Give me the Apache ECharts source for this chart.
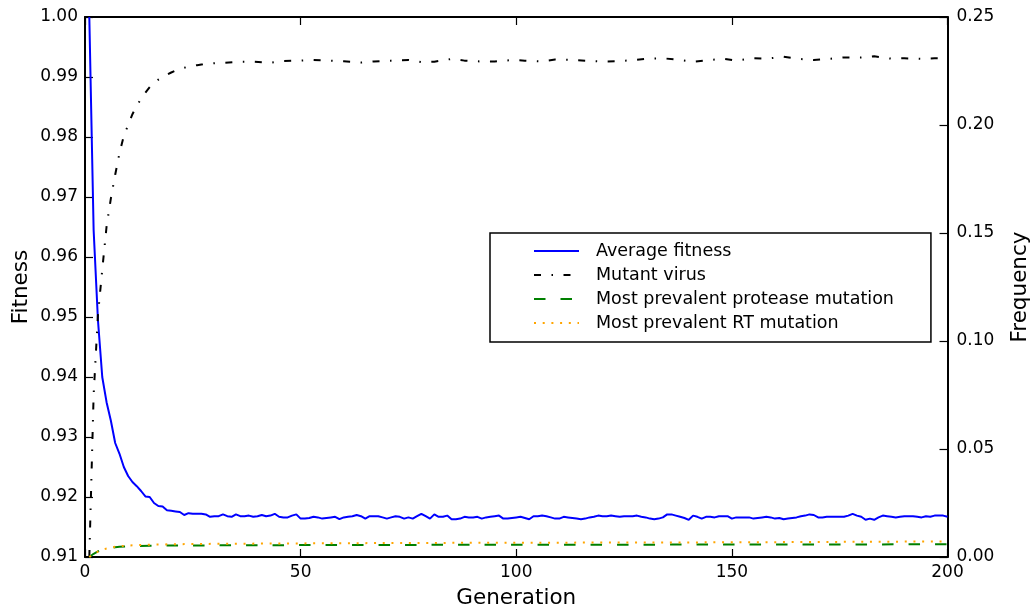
<!DOCTYPE html>
<html>
<head>
<meta charset="utf-8">
<script src="https://cdn.jsdelivr.net/npm/echarts@6/dist/echarts.min.js"></script>
<style>
  html, body { margin: 0; padding: 0; background: #fff; }
  #chart { width: 1031px; height: 607px; }
</style>
</head>
<body>
<div id="chart"></div>
<script>
// Average fitness, one value per generation (generations 1..200)
const fitness = [
  1.0000, 0.9645, 0.9495, 0.9400, 0.9358, 0.9327, 0.9290, 0.9272, 0.9250, 0.9235,
  0.9225, 0.9218, 0.9210, 0.9201, 0.9200, 0.9190, 0.9185, 0.9184, 0.9178, 0.9177,
  0.9176, 0.9175, 0.9170, 0.9173, 0.9172, 0.9172, 0.9172, 0.9171, 0.9167, 0.9168,
  0.9168, 0.9171, 0.9168, 0.9167, 0.9171, 0.9168, 0.9168, 0.9169, 0.9167, 0.9168,
  0.9170, 0.9168, 0.9169, 0.9172, 0.9167, 0.9166, 0.9166, 0.9169, 0.9171, 0.9164,
  0.9164, 0.9165, 0.9167, 0.9166, 0.9164, 0.9165, 0.9166, 0.9167, 0.9163, 0.9166,
  0.9167, 0.9168, 0.9170, 0.9168, 0.9164, 0.9168, 0.9168, 0.9168, 0.9166, 0.9164,
  0.9166, 0.9168, 0.9167, 0.9164, 0.9166, 0.9164, 0.9168, 0.9172, 0.9168, 0.9164,
  0.9171, 0.9167, 0.9167, 0.9169, 0.9163, 0.9163, 0.9164, 0.9167, 0.9166, 0.9166,
  0.9167, 0.9164, 0.9166, 0.9167, 0.9168, 0.9169, 0.9164, 0.9164, 0.9165, 0.9166,
  0.9167, 0.9165, 0.9163, 0.9168, 0.9168, 0.9169, 0.9168, 0.9166, 0.9164, 0.9164,
  0.9167, 0.9166, 0.9165, 0.9164, 0.9163, 0.9164, 0.9166, 0.9167, 0.9169, 0.9168,
  0.9168, 0.9169, 0.9168, 0.9167, 0.9168, 0.9168, 0.9168, 0.9169, 0.9167, 0.9166,
  0.9164, 0.9163, 0.9164, 0.9166, 0.9171, 0.9171, 0.9169, 0.9167, 0.9165, 0.9162,
  0.9169, 0.9167, 0.9164, 0.9167, 0.9167, 0.9166, 0.9168, 0.9168, 0.9168, 0.9164,
  0.9166, 0.9166, 0.9166, 0.9166, 0.9164, 0.9165, 0.9166, 0.9167, 0.9166, 0.9164,
  0.9165, 0.9163, 0.9164, 0.9165, 0.9166, 0.9168, 0.9169, 0.9171, 0.9170, 0.9166,
  0.9166, 0.9167, 0.9167, 0.9167, 0.9167, 0.9167, 0.9169, 0.9172, 0.9169, 0.9167,
  0.9162, 0.9164, 0.9162, 0.9166, 0.9169, 0.9168, 0.9167, 0.9166, 0.9167, 0.9168,
  0.9168, 0.9168, 0.9167, 0.9166, 0.9168, 0.9167, 0.9169, 0.9169, 0.9169, 0.9167
];

// Mutant virus frequency
const mutantGens = [
  1, 2, 3, 4, 5, 6, 7, 8, 9, 10, 11, 12, 13, 14, 15, 16, 17, 18, 19, 20,
  21, 22, 23, 24, 25, 26, 27, 28, 29, 30, 32, 36, 39, 43, 46, 50, 53, 56,
  60, 64, 67, 71, 75, 78, 81, 85, 88, 92, 95, 99, 102, 106, 109, 113, 116,
  120, 123, 127, 130, 134, 138, 141, 144, 148, 151, 155, 158, 162, 165, 169,
  173, 176, 180, 183, 187, 190, 194, 197, 200
];
const mutantFreq = [
  0.0000, 0.0750, 0.1120, 0.1330, 0.1530, 0.1660, 0.1770, 0.1870, 0.1950, 0.2000,
  0.2050, 0.2090, 0.2120, 0.2150, 0.2175, 0.2195, 0.2210, 0.2222, 0.2233, 0.2243,
  0.2252, 0.2259, 0.2265, 0.2270, 0.2274, 0.2277, 0.2280, 0.2282, 0.2284, 0.2286,
  0.2288, 0.2293, 0.2293, 0.2288, 0.2296, 0.2298, 0.2301, 0.2299,
  0.2295, 0.2289, 0.2294, 0.2298, 0.2301, 0.2291, 0.2293, 0.2306, 0.2298, 0.2294,
  0.2294, 0.2301, 0.2298, 0.2294, 0.2303, 0.2301, 0.2298,
  0.2294, 0.2295, 0.2300, 0.2306, 0.2309, 0.2301, 0.2293, 0.2299, 0.2307, 0.2298,
  0.2309, 0.2307, 0.2316, 0.2307, 0.2301,
  0.2307, 0.2313, 0.2313, 0.2318, 0.2307, 0.2309, 0.2306, 0.2309, 0.2308
];

// Most prevalent protease / RT mutation frequencies
const mutationGens = [1, 2, 3, 4, 5, 6, 7, 8, 10, 12, 15, 20, 30, 50, 75, 100, 125, 150, 175, 200];
const proteaseFreq = [0, 0.0015, 0.0026, 0.0033, 0.0038, 0.0042, 0.0045, 0.0047, 0.0050, 0.0051,
                      0.0052, 0.0053, 0.0054, 0.0055, 0.0056, 0.0057, 0.0057, 0.0058, 0.0058, 0.0059];
const rtFreq       = [0, 0.0014, 0.0025, 0.0033, 0.0039, 0.0043, 0.0047, 0.0050, 0.0053, 0.0055,
                      0.0057, 0.0059, 0.0061, 0.0063, 0.0065, 0.0066, 0.0067, 0.0068, 0.0070, 0.0072];

const seriesNames = [
  'Average fitness',
  'Mutant virus',
  'Most prevalent protease mutation',
  'Most prevalent RT mutation'
];

const FONT = 'DejaVu Sans';
const pairs = (xs, ys) => xs.map((x, i) => [x, ys[i]]);
const fitnessPairs = fitness.map((v, i) => [i + 1, v]);

const spine = { show: true, onZero: false, lineStyle: { color: '#000', width: 2 } };
const tick = { show: true, inside: true, length: 8, lineStyle: { color: '#000', width: 1.2 } };
const tickLabel = { color: '#000', fontSize: 17, fontFamily: FONT };
const titleStyle = { color: '#000', fontSize: 21.5, fontFamily: FONT };

const chart = echarts.init(document.getElementById('chart'), null, { renderer: 'canvas' });

chart.setOption({
  animation: false,
  backgroundColor: '#fff',
  grid: { left: 85, right: 83.5, top: 17, bottom: 50, containLabel: false, outerBoundsMode: 'none' },
  legend: {
    orient: 'vertical',
    left: 490,
    top: 233,
    padding: [9, 37, 10, 43],
    itemWidth: 45,
    itemHeight: 17,
    itemGap: 6,
    borderColor: '#000',
    borderWidth: 1.5,
    backgroundColor: '#fff',
    borderRadius: 0,
    itemStyle: { opacity: 0 },
    textStyle: { color: '#000', fontSize: 17.5, fontFamily: FONT, padding: [0, 0, 0, 12] },
    data: seriesNames
  },
  xAxis: [
    {
      type: 'value', position: 'bottom', min: 0, max: 200, interval: 50,
      name: 'Generation', nameLocation: 'middle', nameGap: 30, nameTextStyle: titleStyle,
      axisLine: spine, axisTick: tick, splitLine: { show: false },
      axisLabel: Object.assign({ margin: 7 }, tickLabel)
    },
    {
      type: 'value', position: 'top', min: 0, max: 200, interval: 50,
      axisLine: spine, axisTick: tick, splitLine: { show: false },
      axisLabel: { show: false }
    }
  ],
  yAxis: [
    {
      type: 'value', position: 'left', min: 0.91, max: 1.0, interval: 0.01,
      name: 'Fitness', nameLocation: 'middle', nameGap: 53, nameTextStyle: titleStyle,
      nameMoveOverlap: false,
      axisLine: spine, axisTick: tick, splitLine: { show: false },
      axisLabel: Object.assign({ margin: 7, formatter: v => v.toFixed(2) }, tickLabel)
    },
    {
      type: 'value', position: 'right', min: 0, max: 0.25, interval: 0.05,
      name: 'Frequency', nameLocation: 'middle', nameGap: 62, nameTextStyle: titleStyle,
      axisLine: spine, axisTick: tick, splitLine: { show: false },
      axisLabel: Object.assign({ margin: 9, formatter: v => v.toFixed(2) }, tickLabel)
    }
  ],
  series: [
    {
      name: seriesNames[0], type: 'line', xAxisIndex: 0, yAxisIndex: 0,
      data: fitnessPairs, symbol: 'none', z: 2,
      lineStyle: { color: '#0000ff', width: 2 }, itemStyle: { color: '#0000ff' }
    },
    {
      name: seriesNames[1], type: 'line', xAxisIndex: 0, yAxisIndex: 1,
      data: pairs(mutantGens, mutantFreq), symbol: 'none', z: 3,
      lineStyle: { color: '#000', width: 2, type: [7, 10.5, 1.5, 10.5] }, itemStyle: { color: '#000' }
    },
    {
      name: seriesNames[2], type: 'line', xAxisIndex: 0, yAxisIndex: 1,
      data: pairs(mutationGens, proteaseFreq), symbol: 'none', z: 4,
      lineStyle: { color: '#008000', width: 2, type: [11.5, 15] }, itemStyle: { color: '#008000' }
    },
    {
      name: seriesNames[3], type: 'line', xAxisIndex: 0, yAxisIndex: 1,
      data: pairs(mutationGens, rtFreq), symbol: 'none', z: 5,
      lineStyle: { color: '#ffa500', width: 2, type: [2, 6.7] }, itemStyle: { color: '#ffa500' }
    }
  ]
});
</script>
</body>
</html>
